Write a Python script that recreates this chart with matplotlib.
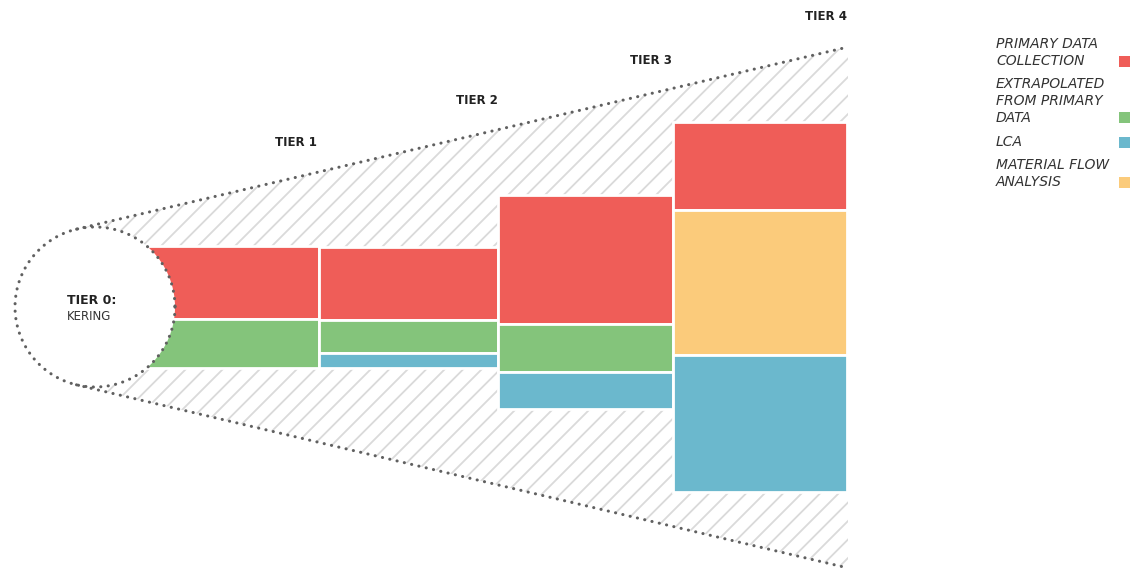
import numpy as np
import matplotlib.pyplot as plt
from matplotlib.patches import Polygon, Circle, Rectangle

# segment heights per tier (top -> bottom)
tiers = ["TIER 1", "TIER 2", "TIER 3", "TIER 4"]
seg_names = [
    ["primary", "extrap"],
    ["primary", "extrap", "lca"],
    ["primary", "extrap", "lca"],
    ["primary", "mfa", "lca"],
]
seg_vals = [
    [73, 49],
    [73, 33, 15],
    [129, 48, 37],
    [88, 145, 137],
]

legend_labels = ["PRIMARY DATA\nCOLLECTION", "EXTRAPOLATED\nFROM PRIMARY\nDATA", "LCA",
                 "MATERIAL FLOW\nANALYSIS"]
legend_keys = ["primary", "extrap", "lca", "mfa"]

colors = {"primary": "#EF5D58", "extrap": "#84C47B", "lca": "#6BB8CD", "mfa": "#FBCB7B"}

# layout (pixel coords)
edges = [120, 319, 498, 672.5, 847]
centers_y = [307, 307, 301.5, 306.5]
label_pos = [(296, 143), (477, 100), (651, 60), (826, 17)]
cx, cy, r = 95, 307, 80
tip_top = (848, 47)
tip_bot = (848, 568)
dots = dict(ls=(0, (0.05, 2.4)), lw=2.2, color='#606060', dash_capstyle='round',
            solid_capstyle='round')

fig = plt.figure(figsize=(11.31, 5.72), dpi=100)
ax = fig.add_axes([0, 0, 1, 1])
ax.set_xlim(0, 1131)
ax.set_ylim(572, 0)
ax.axis('off')


def tangent(p, sign):
    vx, vy = p[0] - cx, p[1] - cy
    d = np.hypot(vx, vy)
    a = np.arctan2(vy, vx) + sign * np.arccos(r / d)
    return (cx + r * np.cos(a), cy + r * np.sin(a))


t_top = tangent(tip_top, -1)
t_bot = tangent(tip_bot, 1)

# hatched cone
cone = Polygon([t_top, tip_top, tip_bot, t_bot, (cx, cy)], closed=True,
               facecolor='none', edgecolor='none', zorder=1)
ax.add_patch(cone)
for c in np.arange(0, 1500, 18.5):
    ln, = ax.plot([0, 900], [c, c - 900], color='#dadada', lw=1.3, zorder=1)
    ln.set_clip_path(cone)
ax.plot([t_top[0], tip_top[0]], [t_top[1], tip_top[1]], zorder=5, **dots)
ax.plot([t_bot[0], tip_bot[0]], [t_bot[1], tip_bot[1]], zorder=5, **dots)

# stacked blocks
for i in range(len(tiers)):
    total = sum(seg_vals[i])
    y = centers_y[i] - total / 2
    for name, v in zip(seg_names[i], seg_vals[i]):
        ax.add_patch(Rectangle((edges[i], y), edges[i + 1] - edges[i], v,
                               facecolor=colors[name], edgecolor='white', lw=2, zorder=3))
        y += v
    ax.text(label_pos[i][0], label_pos[i][1], tiers[i], ha='center', va='center',
            fontsize=8.5, fontweight='bold', color='#222222')

# tier 0 circle
ax.add_patch(Circle((cx, cy), r, facecolor='white', edgecolor='none', zorder=4))
th = np.linspace(0, 2 * np.pi, 400)
ax.plot(cx + r * np.cos(th), cy + r * np.sin(th), zorder=5, **dots)
ax.text(67, 301, "TIER 0:", ha='left', va='center', fontsize=9, fontweight='bold',
        color='#222222', zorder=6)
ax.text(67, 317, "KERING", ha='left', va='center', fontsize=8.5, color='#333333', zorder=6)

# legend
leg_y = [44, 84, 142, 165]
for lab, key, y0 in zip(legend_labels, legend_keys, leg_y):
    nl = lab.count("\n")
    ax.text(996, y0 - 7, lab, ha='left', va='top', fontsize=10, style='italic',
            color='#333333', linespacing=1.25)
    ys = y0 + nl * 16.7
    ax.add_patch(Rectangle((1119, ys - 5), 11, 11, facecolor=colors[key], edgecolor='none'))

fig.savefig("out.png", dpi=100)
